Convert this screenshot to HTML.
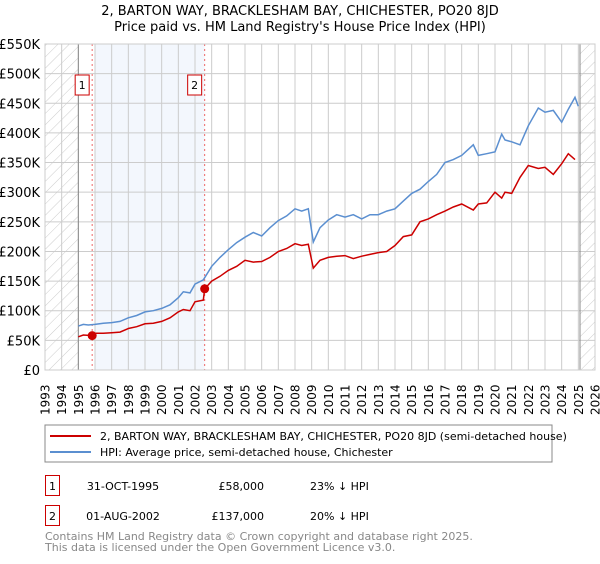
<!DOCTYPE html>
<html><head><meta charset="utf-8"><style>
body{margin:0;background:#fff;width:600px;height:560px;overflow:hidden;font-family:"DejaVu Sans","Liberation Sans",sans-serif;}
svg text{font-family:"DejaVu Sans","Liberation Sans",sans-serif;}
</style></head><body>
<svg id="chart" width="600" height="560" xmlns="http://www.w3.org/2000/svg">
<text x="300" y="15" text-anchor="middle" font-size="13">2, BARTON WAY, BRACKLESHAM BAY, CHICHESTER, PO20 8JD</text>
<text x="300" y="31" text-anchor="middle" font-size="13">Price paid vs. HM Land Registry's House Price Index (HPI)</text>
<defs><pattern id="hatch" width="8" height="8" patternUnits="userSpaceOnUse" patternTransform="rotate(45)"><line x1="0" y1="0" x2="0" y2="8" stroke="#ccc" stroke-width="1"/></pattern></defs>
<g id="plot"></g>
<g>
<rect x="45" y="425" width="507" height="37" fill="#fff" stroke="#888"/>
<line x1="50" y1="436" x2="91" y2="436" stroke="#cc0000" stroke-width="2"/>
<text x="100" y="440" font-size="11">2, BARTON WAY, BRACKLESHAM BAY, CHICHESTER, PO20 8JD (semi-detached house)</text>
<line x1="50" y1="452" x2="91" y2="452" stroke="#5b8fd0" stroke-width="2"/>
<text x="100" y="456" font-size="11">HPI: Average price, semi-detached house, Chichester</text>
</g>
<g>
<rect x="45.5" y="475.5" width="14" height="20" fill="#fff" stroke="#c00"/>
<text x="52.5" y="490" text-anchor="middle" font-size="11">1</text>
<text x="123" y="490" text-anchor="middle" font-size="11">31-OCT-1995</text>
<text x="264" y="490" text-anchor="end" font-size="11">£58,000</text>
<text x="310" y="490" font-size="11">23% ↓ HPI</text>
<rect x="45.5" y="505.5" width="14" height="20" fill="#fff" stroke="#c00"/>
<text x="52.5" y="520" text-anchor="middle" font-size="11">2</text>
<text x="123" y="520" text-anchor="middle" font-size="11">01-AUG-2002</text>
<text x="264" y="520" text-anchor="end" font-size="11">£137,000</text>
<text x="310" y="520" font-size="11">20% ↓ HPI</text>
</g>
<text x="45" y="540" font-size="11" fill="#888">Contains HM Land Registry data © Crown copyright and database right 2025.</text>
<text x="45" y="551" font-size="11" fill="#888">This data is licensed under the Open Government Licence v3.0.</text>
</svg>
<script>
const yTicks=[0,50,100,150,200,250,300,350,400,450,500,550];
const yTickLabels=["£0","£50K","£100K","£150K","£200K","£250K","£300K","£350K","£400K","£450K","£500K","£550K"];
const xYears=[1993,1994,1995,1996,1997,1998,1999,2000,2001,2002,2003,2004,2005,2006,2007,2008,2009,2010,2011,2012,2013,2014,2015,2016,2017,2018,2019,2020,2021,2022,2023,2024,2025,2026];
const hpiT=[1995.0,1995.3,1995.6,1996.0,1996.5,1997.0,1997.5,1998.0,1998.5,1999.0,1999.5,2000.0,2000.5,2001.0,2001.3,2001.7,2002.0,2002.5,2003.0,2003.5,2004.0,2004.5,2005.0,2005.5,2006.0,2006.5,2007.0,2007.5,2008.0,2008.4,2008.8,2009.1,2009.5,2010.0,2010.5,2011.0,2011.5,2012.0,2012.5,2013.0,2013.5,2014.0,2014.5,2015.0,2015.5,2016.0,2016.5,2017.0,2017.5,2018.0,2018.7,2019.0,2019.5,2020.0,2020.4,2020.6,2021.0,2021.5,2022.0,2022.6,2023.0,2023.5,2024.0,2024.4,2024.8,2025.0];
const hpiV=[74,77,76,77,79,80,82,88,92,98,100,104,110,122,132,130,145,152,175,190,203,215,224,232,226,240,252,260,272,268,272,216,240,253,262,258,262,255,262,262,268,272,285,298,305,318,330,350,355,362,380,362,365,368,398,388,385,380,412,442,435,438,418,440,460,445];
const ppT=[1995.0,1995.3,1995.83,1996.0,1996.5,1997.0,1997.5,1998.0,1998.5,1999.0,1999.5,2000.0,2000.5,2001.0,2001.3,2001.7,2002.0,2002.5,2002.58,2003.0,2003.5,2004.0,2004.5,2005.0,2005.5,2006.0,2006.5,2007.0,2007.5,2008.0,2008.4,2008.8,2009.1,2009.5,2010.0,2010.5,2011.0,2011.5,2012.0,2012.5,2013.0,2013.5,2014.0,2014.5,2015.0,2015.5,2016.0,2016.5,2017.0,2017.5,2018.0,2018.7,2019.0,2019.5,2020.0,2020.4,2020.6,2021.0,2021.5,2022.0,2022.6,2023.0,2023.5,2024.0,2024.4,2024.8,2025.0];
const ppV=[56,59,58,62,62,63,64,70,73,78,79,82,88,98,102,100,115,118,137,150,158,168,175,185,182,183,190,200,205,213,210,212,172,185,190,192,193,188,192,195,198,200,210,225,228,250,255,262,268,275,280,270,280,282,300,290,300,298,325,345,340,342,330,348,365,355];
const sales=[{t:1995.83,v:58,n:"1"},{t:2002.58,v:137,n:"2"}];
const X0=45,X1=595,Y0=370,Y1=44;
const xs=t=>X0+(t-1993)/33*(X1-X0);
const ys=v=>Y0-v/550*(Y0-Y1);
const NS="http://www.w3.org/2000/svg";
const g=document.getElementById('plot');
function mk(tag,at){const e=document.createElementNS(NS,tag);for(const k in at)e.setAttribute(k,at[k]);g.appendChild(e);return e;}
let e;
e=mk('rect',{x:X0,y:Y1,width:xs(1995)-X0,height:Y0-Y1,fill:'url(#hatch)'});


e=mk('rect',{x:xs(2025.1),y:Y1,width:X1-xs(2025.1),height:Y0-Y1,fill:'url(#hatch)'});


e=mk('rect',{x:xs(1996),y:Y1,width:xs(sales[1].t)-xs(1996),height:Y0-Y1,fill:'#eef3fc',opacity:0.7});


yTicks.forEach((v,i)=>{
 e=mk('line',{x1:X0,x2:X1,y1:ys(v),y2:ys(v),stroke:'#ccc'});
 
 
 e=mk('text',{x:40,y:ys(v)+5,'text-anchor':'end','font-size':13});
 e.textContent=yTickLabels[i];
 
 
});
xYears.forEach(yr=>{
 e=mk('line',{x1:xs(yr),x2:xs(yr),y1:Y1,y2:Y0,stroke:'#ccc'});
 
 
 e=mk('text',{x:0,y:0,'font-size':12,transform:`translate(${xs(yr)+4.5},${415}) rotate(-90)`});
 e.textContent=yr;
 
 
});
e=mk('line',{x1:xs(1995),x2:xs(1995),y1:Y1,y2:Y0,stroke:'#888'});


e=mk('line',{x1:xs(2025.1),x2:xs(2025.1),y1:Y1,y2:Y0,stroke:'#888'});


sales.forEach(s=>{
 e=mk('line',{x1:xs(s.t),x2:xs(s.t),y1:Y1,y2:Y0,stroke:'#e66','stroke-dasharray':'2,3'});
 
 
 e=mk('rect',{x:xs(s.t)-17,y:75,width:14,height:20,fill:'#fff',stroke:'#c00'});
 
 
 e=mk('text',{x:xs(s.t)-10,y:89,'text-anchor':'middle','font-size':11});
 e.textContent=s.n;
 
 
});
e=mk('path',{d:hpiT.map((t,i)=>(i?'L':'M')+xs(t).toFixed(1)+','+ys(hpiV[i]).toFixed(1)).join(''),fill:'none',stroke:'#5b8fd0','stroke-width':1.5});


e=mk('path',{d:ppT.map((t,i)=>(i?'L':'M')+xs(t).toFixed(1)+','+ys(ppV[i]).toFixed(1)).join(''),fill:'none',stroke:'#cc0000','stroke-width':1.5});


sales.forEach(s=>{
 e=mk('circle',{cx:xs(s.t),cy:ys(s.v),r:4.5,fill:'#cc0000'});
 
 
});
e=mk('rect',{x:X0,y:Y1,width:X1-X0,height:Y0-Y1,fill:'none',stroke:'#ccc'});


</script>
</body></html>
